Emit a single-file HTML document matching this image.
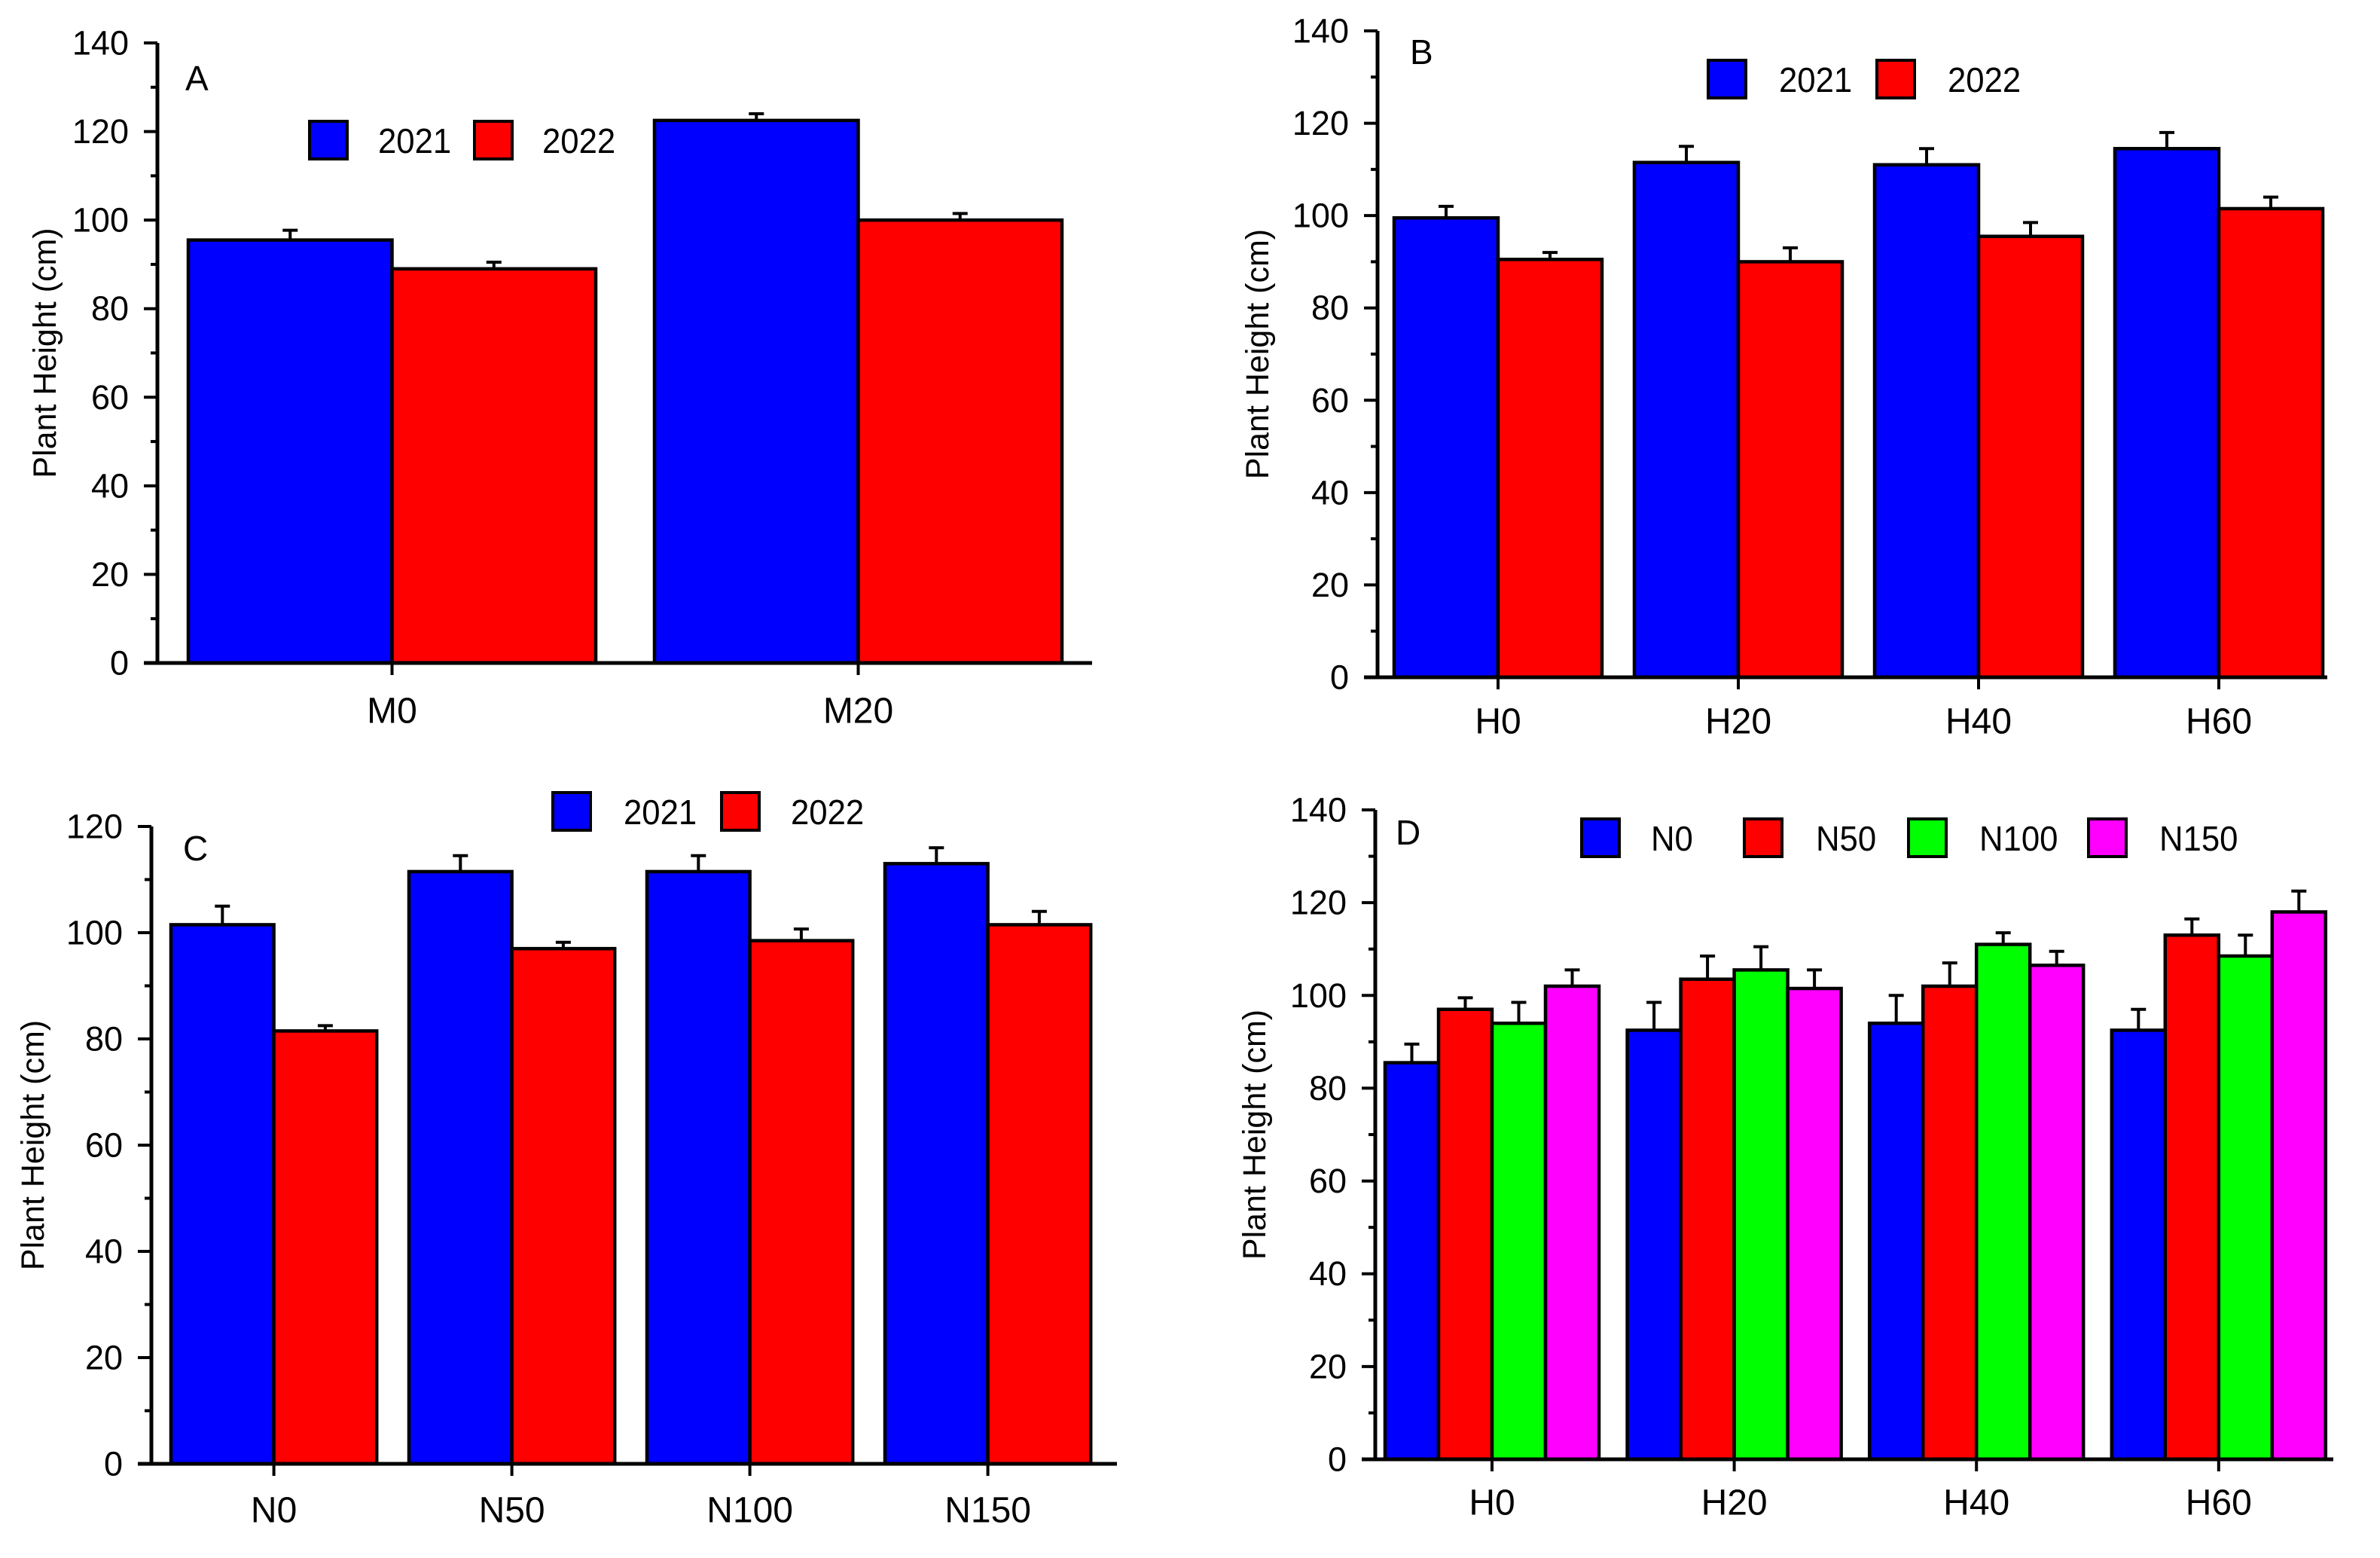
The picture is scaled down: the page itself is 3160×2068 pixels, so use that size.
<!DOCTYPE html>
<html><head><meta charset="utf-8"><style>
html,body{margin:0;padding:0;background:#fff;}
svg{display:block;font-family:"Liberation Sans",Arial,sans-serif;}
</style></head><body>
<svg id="fig" xmlns="http://www.w3.org/2000/svg" width="3160" height="2068" viewBox="0 0 3160 2068"></svg>
<script>
// Panel A data
const catsA = ["M0","M20"];
const a2021 = [95.5,122.5];
const a2021err = [2.2,1.5];
const a2022 = [89,100];
const a2022err = [1.5,1.5];
// Panel B data
const catsB = ["H0","H20","H40","H60"];
const b2021 = [99.5,111.5,111,114.5];
const b2021err = [2.5,3.5,3.5,3.5];
const b2022 = [90.5,90,95.5,101.5];
const b2022err = [1.5,3,3,2.5];
// Panel C data
const catsC = ["N0","N50","N100","N150"];
const c2021 = [101.5,111.5,111.5,113];
const c2021err = [3.5,3,3,3];
const c2022 = [81.5,97,98.5,101.5];
const c2022err = [1,1.2,2.2,2.5];
// Panel D data
const catsD = ["H0","H20","H40","H60"];
const dN0 = [85.5,92.5,94,92.5];
const dN0err = [4,6,6,4.5];
const dN50 = [97,103.5,102,113];
const dN50err = [2.5,5,5,3.5];
const dN100 = [94,105.5,111,108.5];
const dN100err = [4.5,5,2.5,4.5];
const dN150 = [102,101.5,106.5,118];
const dN150err = [3.5,4,3,4.5];
const ticks140 = [0,20,40,60,80,100,120,140];
const ticks120 = [0,20,40,60,80,100,120];

const NS="http://www.w3.org/2000/svg";
const svg=document.getElementById('fig');
function mk(tag,attrs,parent){const e=document.createElementNS(NS,tag);for(const k in attrs)e.setAttribute(k,attrs[k]);(parent||svg).appendChild(e);return e;}

function panel(p){
  const g=mk('g',{});
  
  
  const y=v=>p.y0-(v/p.ymax)*(p.y0-p.ytop);
  const ns=p.series.length;
  p.cats.forEach((c,i)=>{
    const gx=p.gx0+i*p.gstep;
    p.series.forEach((s,j)=>{
      const x=gx+j*p.bw, v=s.vals[i], e=s.err[i];
      const yt=y(v);
      const r=mk('rect',{x:x,y:yt,width:p.bw,height:p.y0-yt,fill:s.color,stroke:'#000','stroke-width':4.5},g);
      
      
      const cx=x+p.bw/2, ye=y(v+e);
      const l=mk('path',{d:`M${cx},${yt} V${ye} M${cx-10},${ye} H${cx+10}`,stroke:'#000','stroke-width':4,fill:'none'},g);
      
      
    });
    const tx=gx+ns*p.bw/2;
    const t=mk('line',{x1:tx,x2:tx,y1:p.y0,y2:p.y0+16,stroke:'#000','stroke-width':4},g);
    
    
    const lb=mk('text',{x:tx,y:p.labY,'font-size':48,'text-anchor':'middle','dominant-baseline':'central'},g);
    lb.textContent=c;
    
    
  });
  const ax=mk('path',{d:`M${p.ax},${p.ytop} V${p.y0+2} M${p.ax-18},${p.y0} H${p.xend}`,stroke:'#000','stroke-width':5,fill:'none'},g);
  
  
  p.ticks.forEach((tv,k)=>{
    const yy=y(tv);
    const t=mk('line',{x1:p.ax-18,x2:p.ax,y1:yy,y2:yy,stroke:'#000','stroke-width':4},g);
    
    
    const lb=mk('text',{x:p.ax-38,y:yy,'font-size':45,'text-anchor':'end','dominant-baseline':'central'},g);
    lb.textContent=tv;
    
    
    if(k<p.ticks.length-1){
      const ym=y(tv+10);
      const m=mk('line',{x1:p.ax-9,x2:p.ax,y1:ym,y2:ym,stroke:'#000','stroke-width':4},g);
      
      
    }
  });
  const yl=mk('text',{x:0,y:0,'font-size':43,'text-anchor':'middle','dominant-baseline':'central',transform:`translate(${p.ylx},${(p.ytop+p.y0)/2}) rotate(-90)`},g);
  yl.textContent='Plant Height (cm)';
  
  
  const pl=mk('text',{x:p.letter[0],y:p.letter[1],'font-size':46,'dominant-baseline':'central'},g);
  pl.textContent=p.letterText;
  
  
  p.series.forEach((s,j)=>{
    const bx=p.leg[j][0];
    const r=mk('rect',{x:bx,y:p.legY,width:50,height:50,fill:s.color,stroke:'#000','stroke-width':4},g);
    
    
    const t=mk('text',{x:p.leg[j][1],y:p.legY+26,'font-size':46,'dominant-baseline':'central',transform:`translate(${p.leg[j][1]},0) scale(0.95,1) translate(${-p.leg[j][1]},0)`},g);
    t.textContent=s.label;
    
    
  });
}

panel({name:'panel-a',cats:catsA,ymax:140,ticks:ticks140,ytop:57,y0:880,ax:209,xend:1450,gx0:250,gstep:619,bw:270.5,labY:944,ylx:60,letter:[246,104],letterText:'A',
  series:[{label:'2021',color:'#0000ff',vals:a2021,err:a2021err},{label:'2022',color:'#ff0000',vals:a2022,err:a2022err}],
  legY:161,leg:[[411,502],[630,720]]});
panel({name:'panel-b',cats:catsB,ymax:140,ticks:ticks140,ytop:41,y0:899,ax:1829,xend:3090,gx0:1851,gstep:319,bw:138,labY:958,ylx:1670,letter:[1872,69],letterText:'B',
  series:[{label:'2021',color:'#0000ff',vals:b2021,err:b2021err},{label:'2022',color:'#ff0000',vals:b2022,err:b2022err}],
  legY:80,leg:[[2268,2362],[2492,2586]]});
panel({name:'panel-c',cats:catsC,ymax:120,ticks:ticks120,ytop:1097,y0:1943,ax:201,xend:1483,gx0:227,gstep:316,bw:136.6,labY:2005,ylx:44,letter:[243,1126],letterText:'C',
  series:[{label:'2021',color:'#0000ff',vals:c2021,err:c2021err},{label:'2022',color:'#ff0000',vals:c2022,err:c2022err}],
  legY:1052,leg:[[734,828],[958,1050]]});
panel({name:'panel-d',cats:catsD,ymax:140,ticks:ticks140,ytop:1075,y0:1937,ax:1826,xend:3098,gx0:1839,gstep:321.6,bw:71,labY:1995,ylx:1666,letter:[1853,1105],letterText:'D',
  series:[{label:'N0',color:'#0000ff',vals:dN0,err:dN0err},{label:'N50',color:'#ff0000',vals:dN50,err:dN50err},{label:'N100',color:'#00ff00',vals:dN100,err:dN100err},{label:'N150',color:'#ff00ff',vals:dN150,err:dN150err}],
  legY:1087,leg:[[2100,2192],[2316,2411],[2534,2628],[2773,2867]]});
</script>
</body></html>
